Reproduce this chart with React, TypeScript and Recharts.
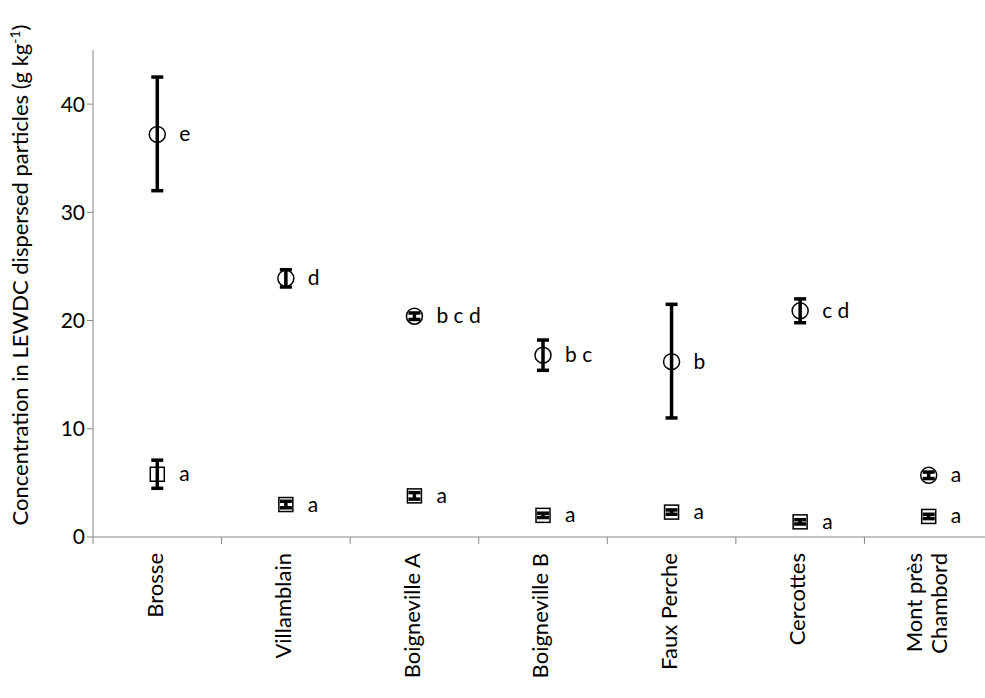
import { ComposedChart, Scatter, XAxis, YAxis, ErrorBar } from 'recharts'

const sites = ['Brosse', 'Villamblain', 'Boigneville A', 'Boigneville B', 'Faux Perche', 'Cercottes', 'Mont près\nChambord']
const circleValues = [37.2, 23.9, 20.4, 16.8, 16.2, 20.9, 5.7]
const circleErr = [[5.2, 5.3], [0.8, 0.8], [0.3, 0.3], [1.4, 1.4], [5.2, 5.3], [1.1, 1.1], [0.3, 0.3]]
const circleLabels = ['e', 'd', 'b c d', 'b c', 'b', 'c d', 'a']
const squareValues = [5.8, 3.0, 3.8, 2.0, 2.3, 1.4, 1.9]
const squareErr = [[1.3, 1.3], [0.3, 0.3], [0.3, 0.3], [0.2, 0.2], [0.2, 0.2], [0.2, 0.2], [0.2, 0.2]]
const squareLabels = ['a', 'a', 'a', 'a', 'a', 'a', 'a']
const xTicks = [-0.5, 0.5, 1.5, 2.5, 3.5, 4.5, 5.5, 6.5]
const yTicks = [0, 10, 20, 30, 40]

const circleData = sites.map((s, i) => ({ x: i, y: circleValues[i], err: circleErr[i], label: circleLabels[i] }))
const squareData = sites.map((s, i) => ({ x: i, y: squareValues[i], err: squareErr[i], label: squareLabels[i] }))

const font = 'Lato, "Open Sans", sans-serif'

const CircleShape = (p: any) => (
  <g>
    <circle cx={p.cx} cy={p.cy} r={8} fill="none" stroke="#000" strokeWidth={1.5} />
    <text x={p.cx + 22} y={p.cy + 7} fontSize={21} fontFamily={font} fill="#000">{p.payload.label}</text>
  </g>
)

const SquareShape = (p: any) => (
  <g>
    <rect x={p.cx - 7} y={p.cy - 7} width={14} height={14} fill="none" stroke="#000" strokeWidth={1.5} />
    <text x={p.cx + 22} y={p.cy + 7} fontSize={21} fontFamily={font} fill="#000">{p.payload.label}</text>
  </g>
)

const XTick = (p: any) => {
  const i = p.payload.value + 0.5
  if (i > 6) return null
  const lines = sites[i].split('\n')
  const cx = p.x + 64
  const y = 553
  return (
    <g>
      {lines.map((l, k) => (
        <text key={k} transform={`translate(${cx + (k - (lines.length - 1) / 2) * 25},${y}) rotate(-90)`}
          textAnchor="end" dominantBaseline="middle" fontSize={22} fontFamily={font} fill="#000">{l}</text>
      ))}
    </g>
  )
}

export default function App() {
  return (
    <div style={{ position: 'absolute', left: 0, top: 0, width: 985, height: 698, overflow: 'hidden', background: '#fff' }}>
      <ComposedChart width={993} height={698} margin={{ top: 50, right: 0, bottom: 0, left: 0 }}>
        <XAxis type="number" dataKey="x" domain={[-0.5, 6.5]} ticks={xTicks} height={161}
          stroke="#868686" tickSize={7} tick={<XTick />} interval={0} allowDataOverflow />
        <YAxis type="number" dataKey="y" domain={[0, 45]} ticks={yTicks} width={93}
          stroke="#868686" tickSize={6} tick={{ fill: '#000', fontSize: 21, fontFamily: font }} />
        <Scatter data={circleData} shape={<CircleShape />} isAnimationActive={false}>
          <ErrorBar dataKey="err" width={6} strokeWidth={3.5} stroke="#000" direction="y" />
        </Scatter>
        <Scatter data={squareData} shape={<SquareShape />} isAnimationActive={false}>
          <ErrorBar dataKey="err" width={6} strokeWidth={3.5} stroke="#000" direction="y" />
        </Scatter>
        <text transform="translate(28,275) rotate(-90)" textAnchor="middle" fontSize={22} fontFamily={font} fill="#000">
          Concentration in LEWDC dispersed particles  (g kg<tspan dy={-8} fontSize={14}>-1</tspan><tspan dy={8}>)</tspan>
        </text>
      </ComposedChart>
    </div>
  )
}
